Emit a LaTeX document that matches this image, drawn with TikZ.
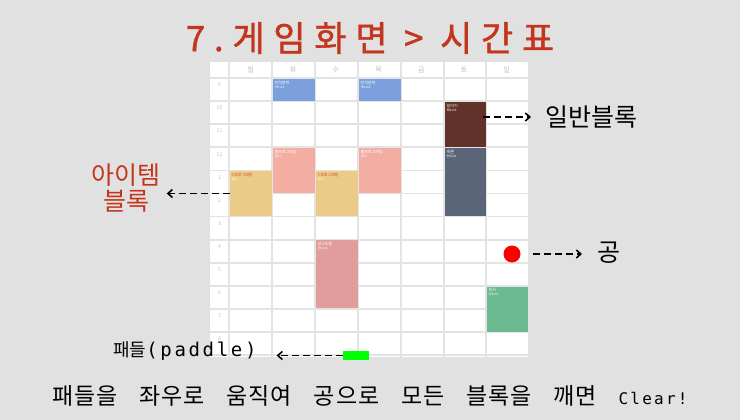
\documentclass[tikz,border=0pt]{standalone}
\usepackage{fontspec}
\setmainfont{Noto Sans CJK KR}
\newfontfamily\titlefont[LetterSpace=25,FakeBold=1.2]{Noto Sans CJK KR}
\newfontfamily\capfont[LetterSpace=4,WordSpace=3.6]{Noto Sans CJK KR}
\newfontfamily\monofont[LetterSpace=14]{DejaVu Sans Mono}
\usetikzlibrary{arrows.meta}

\definecolor{bgcol}{HTML}{E1E1E1}
\definecolor{titlered}{HTML}{C4351E}
\definecolor{gridgray}{HTML}{E3E3E3}
\definecolor{labelgray}{HTML}{BDBDBD}
\definecolor{calblue}{HTML}{7BA0DC}
\definecolor{calbrown}{HTML}{613229}
\definecolor{calsalmon}{HTML}{F4ADA2}
\definecolor{calyellow}{HTML}{EBCB88}
\definecolor{calslate}{HTML}{5B6579}
\definecolor{calpink}{HTML}{E09D9B}
\definecolor{calgreen}{HTML}{6BB98F}
\definecolor{yeltext}{HTML}{E0452B}
\definecolor{paddlegreen}{HTML}{00FF00}
\definecolor{ballred}{HTML}{FF0000}

\begin{document}
\begin{tikzpicture}[
  x=1pt, y=-1pt,
  cal/.style={line width=1.6pt, draw=gridgray},
  block/.style={draw=none, fill=#1, inner sep=0pt, anchor=north west},
  btxt/.style={anchor=north west, inner sep=2pt, align=left, text=white, font=\fontsize{4}{5}\selectfont},
  daylbl/.style={font=\fontsize{7}{7}\selectfont, text=labelgray},
  hourlbl/.style={font=\fontsize{5}{5}\selectfont, text=labelgray},
  note/.style={inner sep=0pt, font=\fontsize{25}{25}\selectfont},
  arr/.style={-{Straight Barb[length=4.5pt, width=8pt]}, line width=1.6pt, dash pattern=on 7pt off 4pt}
]
\fill[bgcol] (0,0) rectangle (740,420);
\useasboundingbox (0,0) rectangle (740,420);

%% Timetable
\fill[white] (210,62) rectangle (528,357);
\foreach \gx in {229,272,315,358,401,444,486}
  \draw[cal] (\gx,62) -- (\gx,357);
\foreach \k in {0,...,12}
  \draw[cal] (210,{78+23.1*\k}) -- (528,{78+23.1*\k});
\foreach \d [count=\j from 0] in {월,화,수,목,금,토,일}
  \node[daylbl] (day\j) at ({250.5+42.7*\j},70) {\d};
\foreach \h [count=\k from 0] in {9,10,11,12,1,2,3,4,5,6,7,8}
  \node[hourlbl] (hour\k) at (219.5,{85+23.1*\k}) {\h};

%% Lecture blocks
\node[block=calblue, minimum width=42pt, minimum height=22pt,
  label={[btxt]north west:{미적분학\\[-1pt]{\fontsize{3}{3}\selectfont 공B101}}}] (calc1) at (272.5,78.8) {};
\node[block=calblue, minimum width=42pt, minimum height=22pt,
  label={[btxt]north west:{미적분학\\[-1pt]{\fontsize{3}{3}\selectfont 공B101}}}] (calc2) at (358.5,78.8) {};
\node[block=calbrown, minimum width=41pt, minimum height=45pt,
  label={[btxt]north west:{일어기\\[-1pt]{\fontsize{3}{3}\selectfont 북B205}}}] (brown) at (444.5,101.8) {};
\node[block=calsalmon, minimum width=42pt, minimum height=45pt,
  label={[btxt]north west:{웹프로그래밍\\[-1pt]{\fontsize{3}{3}\selectfont 공B1}}}] (web1) at (272.5,147.8) {};
\node[block=calsalmon, minimum width=42pt, minimum height=45pt,
  label={[btxt]north west:{웹프로그래밍\\[-1pt]{\fontsize{3}{3}\selectfont 공B1}}}] (web2) at (358.5,147.8) {};
\node[block=calslate, minimum width=41pt, minimum height=68pt,
  label={[btxt]north west:{개론\\[-1pt]{\fontsize{3}{3}\selectfont 인B201}}}] (slate) at (444.5,147.8) {};
\node[block=calyellow, minimum width=42pt, minimum height=45pt,
  label={[btxt, text=yeltext]north west:{C프로그래밍\\[-1pt]{\color{white}\fontsize{3}{3}\selectfont 공B1}}}] (yel1) at (229.5,170.8) {};
\node[block=calyellow, minimum width=42pt, minimum height=45pt,
  label={[btxt, text=yeltext]north west:{C프로그래밍\\[-1pt]{\color{white}\fontsize{3}{3}\selectfont 공B1}}}] (yel2) at (315.5,170.8) {};
\node[block=calpink, minimum width=42pt, minimum height=68pt,
  label={[btxt]north west:{알고리즘\\[-1pt]{\fontsize{3}{3}\selectfont 공B105}}}] (algo) at (315.5,240.2) {};
\node[block=calgreen, minimum width=41pt, minimum height=45pt,
  label={[btxt]north west:{회사\\[-1pt]{\fontsize{3}{3}\selectfont 인B201}}}] (green) at (486.5,286.4) {};

%% Ball and paddle
\node[circle, fill=ballred, minimum size=17pt, inner sep=0pt] (ball) at (512,254) {};
\node[fill=paddlegreen, minimum width=26pt, minimum height=9pt, inner sep=0pt] (paddle) at (356,355.5) {};

%% Title and notes
\node[text=titlered, font=\titlefont\fontsize{35}{35}\selectfont] (title) at (370,38) {7.게임화면 > 시간표};
\node[note, anchor=west] (normlbl) at (545,117) {일반블록};
\node[note, anchor=west] (balllbl) at (597,253) {공};
\node[note, text=titlered, align=center, font=\fontsize{25}{26}\selectfont] (itemlbl) at (126,188) {아이템\\블록};
\node[inner sep=0pt, anchor=west, font=\fontsize{18}{18}\selectfont] (paddlelbl) at (113,351) {패들{\monofont\fontsize{19}{19}\selectfont(paddle)}};
\node[inner sep=0pt, font=\capfont\fontsize{23}{23}\selectfont] (caption) at (370,396)
  {패들을 좌우로 움직여 공으로 모든 블록을 깨면 {\monofont\fontsize{16}{16}\selectfont Clear!}};

%% Arrows
\draw[arr, shorten <=-3pt, shorten >=14pt] (brown.east |- normlbl.west) -- (normlbl.west);
\draw[arr, shorten <=12pt, shorten >=15pt] (ball.east) -- (ball.east -| balllbl.west);
\draw[arr, shorten >=6pt] (yel1.west) -- (yel1.west -| itemlbl.east);
\draw[arr, shorten >=20pt] (paddle.west) -- (paddle.west -| paddlelbl.east);
\end{tikzpicture}
\end{document}
